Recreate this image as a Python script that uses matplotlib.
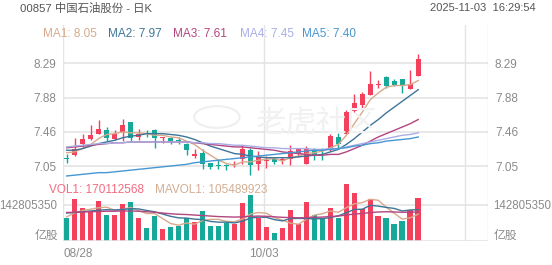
import numpy as np
import matplotlib
matplotlib.use("Agg")
import matplotlib.pyplot as plt
from matplotlib.patches import Circle

plt.rcParams['font.family'] = ['Liberation Sans', 'Noto Sans CJK SC', 'DejaVu Sans']

# daily candles, 45 sessions
opens = [7.15, 7.18, 7.31, 7.37, 7.43, 7.48, 7.38, 7.46, 7.58, 7.40,
         7.45, 7.48, 7.39, 7.39, 7.36, 7.31, 7.17, 7.21, 7.09, 7.06,
         7.06, 7.06, 7.14, 7.24, 7.07, 7.11, 7.14, 7.11, 7.14, 7.20,
         7.07, 7.24, 7.24, 7.24, 7.40, 7.44, 7.71, 7.79, 7.91, 8.03,
         8.12, 8.08, 8.10, 7.98, 8.14]
highs = [7.19, 7.39, 7.43, 7.55, 7.60, 7.52, 7.48, 7.62, 7.58, 7.49,
         7.48, 7.50, 7.40, 7.40, 7.40, 7.33, 7.26, 7.25, 7.09, 7.13,
         7.08, 7.11, 7.30, 7.27, 7.23, 7.17, 7.16, 7.16, 7.30, 7.27,
         7.29, 7.27, 7.27, 7.43, 7.45, 7.72, 7.92, 7.94, 8.20, 8.09,
         8.13, 8.10, 8.10, 8.21, 8.40]
lows = [7.09, 7.17, 7.27, 7.36, 7.43, 7.35, 7.36, 7.35, 7.35, 7.36,
        7.40, 7.27, 7.33, 7.31, 7.31, 7.18, 7.15, 7.02, 7.01, 7.01,
        7.00, 7.04, 7.07, 6.94, 7.00, 7.03, 7.08, 7.08, 7.06, 7.16,
        7.07, 7.12, 7.12, 7.23, 7.27, 7.43, 7.70, 7.74, 7.90, 7.99,
        7.99, 8.02, 7.93, 7.98, 8.13]
closes = [7.13, 7.25, 7.37, 7.42, 7.49, 7.39, 7.44, 7.55, 7.39, 7.44,
          7.44, 7.39, 7.40, 7.35, 7.35, 7.24, 7.20, 7.07, 7.04, 7.05,
          7.05, 7.07, 7.25, 7.06, 7.16, 7.12, 7.10, 7.13, 7.23, 7.25,
          7.27, 7.18, 7.23, 7.41, 7.31, 7.70, 7.81, 7.92, 8.04, 8.04,
          8.02, 8.03, 8.01, 8.04, 8.34]
volumes = [91.6, 165.0, 128.5, 112.8, 158.4, 102.2, 102.2, 145.4, 152.1, 91.6,
           49.9, 99.4, 47.2, 55.0, 60.1, 91.6, 75.8, 117.9, 60.1, 60.1,
           71.9, 68.0, 150.5, 180.8, 89.2, 56.2, 33.4, 49.9, 121.8, 66.8,
           154.4, 102.2, 89.2, 128.5, 89.2, 222.8, 189.8, 124.6, 165.0, 98.3,
           89.2, 66.8, 79.8, 121.8, 170.1]  # millions of shares

ma1 = [7.21, 7.22, 7.26, 7.31, 7.38, 7.43, 7.44, 7.46, 7.45, 7.45,
       7.44, 7.42, 7.42, 7.40, 7.39, 7.35, 7.31, 7.24, 7.18, 7.12,
       7.08, 7.06, 7.10, 7.10, 7.12, 7.13, 7.14, 7.11, 7.15, 7.17,
       7.20, 7.21, 7.23, 7.27, 7.31, 7.42, 7.56, 7.70, 7.85, 7.93,
       8.00, 8.02, 8.02, 8.03, 8.08]
ma2 = [7.24, 7.24, 7.26, 7.29, 7.32, 7.34, 7.36, 7.39, 7.41, 7.42,
       7.44, 7.44, 7.44, 7.43, 7.42, 7.40, 7.37, 7.33, 7.29, 7.26,
       7.23, 7.20, 7.19, 7.17, 7.16, 7.15, 7.15, 7.15, 7.15, 7.16,
       7.17, 7.18, 7.19, 7.22, 7.25, 7.31, 7.38, 7.46, 7.54, 7.61,
       7.69, 7.76, 7.83, 7.90, 7.97]
ma3 = [7.27, 7.28, 7.29, 7.30, 7.31, 7.32, 7.33, 7.33, 7.34, 7.34,
       7.34, 7.34, 7.34, 7.34, 7.34, 7.34, 7.33, 7.32, 7.31, 7.30,
       7.29, 7.28, 7.28, 7.27, 7.26, 7.25, 7.24, 7.22, 7.21, 7.20,
       7.19, 7.18, 7.18, 7.19, 7.19, 7.22, 7.26, 7.30, 7.35, 7.40,
       7.44, 7.48, 7.52, 7.56, 7.61]
ma4 = [7.28, 7.29, 7.30, 7.31, 7.32, 7.32, 7.33, 7.33, 7.34, 7.34,
       7.34, 7.34, 7.34, 7.34, 7.34, 7.34, 7.33, 7.33, 7.32, 7.32,
       7.31, 7.30, 7.30, 7.29, 7.28, 7.27, 7.27, 7.26, 7.26, 7.26,
       7.26, 7.25, 7.25, 7.26, 7.26, 7.28, 7.30, 7.32, 7.34, 7.36,
       7.38, 7.40, 7.42, 7.43, 7.45]
ma5 = [6.93, 6.94, 6.95, 6.96, 6.97, 6.97, 6.98, 6.99, 7.00, 7.01,
       7.02, 7.03, 7.04, 7.05, 7.06, 7.07, 7.09, 7.10, 7.11, 7.12,
       7.13, 7.14, 7.15, 7.16, 7.17, 7.18, 7.19, 7.20, 7.21, 7.22,
       7.23, 7.24, 7.24, 7.25, 7.26, 7.27, 7.29, 7.30, 7.32, 7.33,
       7.35, 7.36, 7.37, 7.38, 7.40]

mavol1 = [95, 110, 120, 125, 131, 133, 121, 124, 132, 119,
          108, 108, 88, 69, 62, 71, 66, 80, 85, 85,
          77, 76, 86, 106, 112, 109, 92, 82, 70, 66,
          85, 102, 107, 118, 113, 131, 146, 151, 164, 160,
          133, 109, 86, 91, 105.5]
mavol2 = [110, 112, 115, 118, 121, 123, 122, 124, 127, 126,
          120, 115, 106, 97, 91, 90, 86, 84, 77, 74,
          74, 71, 78, 90, 94, 93, 84, 79, 88, 89,
          88, 87, 88, 92, 99, 111, 124, 125, 140, 137,
          132, 128, 118, 122, 123]
mavol3 = [112, 113, 114, 115, 116, 117, 117, 118, 118, 117,
          115, 113, 110, 107, 105, 104, 102, 100, 98, 96,
          95, 94, 95, 97, 98, 97, 95, 93, 92, 91,
          92, 93, 94, 96, 98, 102, 106, 108, 112, 114,
          115, 114, 113, 113, 114]

price_ticks = [7.05, 7.4625, 7.875, 8.2875]
price_labels = ["7.05", "7.46", "7.88", "8.29"]
vol_tick = 142805350
date_labels = ["08/28", "10/03"]
legend_names = ["MA1", "MA2", "MA3", "MA4", "MA5"]
legend_values = ["8.05", "7.97", "7.61", "7.45", "7.40"]

RED = "#f2405d"
TEAL = "#16a899"
MA_COLORS = ["#d8a98a", "#3d7598", "#b3457f", "#a9aee6", "#4797d2"]
GRID = "#e4e4e4"
TXT = "#8a8a8a"

W, H = 552, 265
fig = plt.figure(figsize=(W / 100, H / 100), dpi=100)


def rect(x0, y0, x1, y1):
    return [x0 / W, 1 - y1 / H, (x1 - x0) / W, (y1 - y0) / H]


ax = fig.add_axes(rect(63, 25, 488, 178))
axv = fig.add_axes(rect(63, 178, 488, 241))

x = np.arange(len(closes))
o = np.array(opens)
c = np.array(closes)
up = c >= o
cols = [RED if u else TEAL for u in up]

# watermark
fig.patches.append(Circle((0.393, 1 - 117 / H), 0.041, transform=fig.transFigure,
                          fill=False, ec="#efefef", lw=1.5, zorder=0))
fig.text(0.575, 1 - 124 / H, "老虎社区", fontsize=22, color="#f1f1f1",
         style="italic", ha="center", va="center", zorder=0)

# price panel
ax.vlines(x, lows, highs, colors=cols, lw=1, zorder=3)
ax.bar(x, np.maximum(np.abs(c - o), 0.012), bottom=np.minimum(o, c),
       width=0.66, color=cols, zorder=4)
for m, col in zip([ma1, ma2, ma3, ma4, ma5], MA_COLORS):
    ax.plot(x, m, color=col, lw=1, zorder=5)

xl = (-0.46, 52.73)
vgrid = [xl[0], 24.7, 49.9, xl[1]]
for a in (ax, axv):
    a.set_xlim(*xl)
    a.set_facecolor("none")
    for s in a.spines.values():
        s.set_visible(False)
    for g in vgrid:
        a.axvline(g, color=GRID, lw=1, zorder=0)

ax.set_ylim(6.9056, 8.749)
ax.set_yticks(price_ticks)
ax.set_yticklabels(price_labels)
ax.grid(axis="y", color=GRID, lw=1.2, zorder=0)
ax.set_xticks([])
ax.tick_params(axis="y", length=0, labelsize=8.5, labelcolor=TXT,
               labelleft=True, labelright=True, pad=5)

# volume panel
vols = np.array(volumes) * 1e6
axv.bar(x, vols, width=0.7, color=cols, zorder=3)
for m, col in zip([mavol1, mavol2, mavol3], MA_COLORS[:3]):
    axv.plot(x, np.array(m) * 1e6, color=col, lw=1, zorder=4)
axv.set_ylim(0, 63 * 3.93e6)
axv.set_yticks([vol_tick])
axv.set_yticklabels([str(vol_tick)])
axv.grid(axis="y", color=GRID, lw=1.2, zorder=0)
axv.axhline(0, color=GRID, lw=1.2, zorder=5)
axv.tick_params(axis="y", length=0, labelsize=8.3, labelcolor=TXT,
                labelleft=True, labelright=True, pad=4)
axv.set_xticks([xl[0], 24.7])
axv.set_xticklabels(date_labels)
axv.tick_params(axis="x", length=0, labelsize=8.5, labelcolor=TXT, pad=5)
axv.get_xticklabels()[0].set_horizontalalignment("left")

fig.text(58 / W, 1 - 236 / H, "亿股", fontsize=8.5, color=TXT, ha="right", va="center")
fig.text(494 / W, 1 - 236 / H, "亿股", fontsize=8.5, color=TXT, ha="left", va="center")

# header
fig.text(20 / W, 1 - 8 / H, "00857 中国石油股份 - 日K", fontsize=8.2, color="#555555",
         va="center")
fig.text(536 / W, 1 - 8 / H, "2025-11-03  16:29:54", fontsize=8, color="#555555",
         va="center", ha="right")
leg_x = [43, 108, 173, 240, 302]
for lx, n, v, col in zip(leg_x, legend_names, legend_values, MA_COLORS):
    fig.text(lx / W, 1 - 34 / H, f"{n}: {v}", fontsize=8.5, color=col, va="center")

fig.text(49 / W, 1 - 190 / H, "VOL1: 170112568", fontsize=8.5, color="#f26a80", va="center")
fig.text(155 / W, 1 - 190 / H, "MAVOL1: 105489923", fontsize=8.5, color="#d2ad92", va="center")

fig.savefig("out.png", dpi=100, facecolor="white")
